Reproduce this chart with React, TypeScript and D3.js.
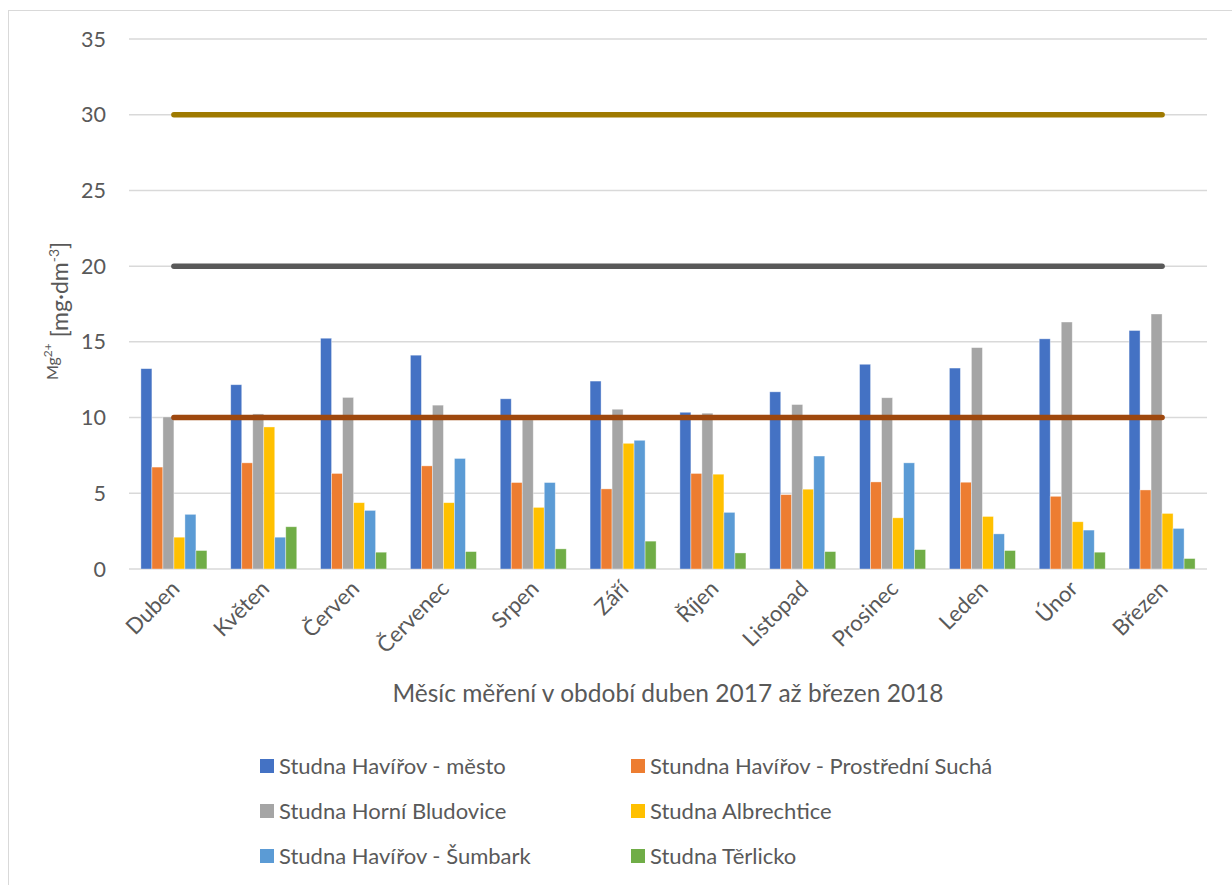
import React from "react";
import * as d3 from "d3";

const months = ["Duben", "Květen", "Červen", "Červenec", "Srpen", "Září", "Říjen", "Listopad", "Prosinec", "Leden", "Únor", "Březen"];
const seriesNames = [
  "Studna Havířov - město",
  "Stundna Havířov - Prostřední Suchá",
  "Studna Horní Bludovice",
  "Studna Albrechtice",
  "Studna Havířov - Šumbark",
  "Studna Těrlicko",
];
const havirovMesto = [13.23, 12.17, 15.24, 14.12, 11.24, 12.41, 10.35, 11.7, 13.52, 13.27, 15.2, 15.75];
const prostredniSucha = [6.73, 7.01, 6.31, 6.81, 5.71, 5.29, 6.31, 4.91, 5.75, 5.73, 4.8, 5.22];
const horniBludovice = [10.04, 10.24, 11.33, 10.82, 9.85, 10.55, 10.29, 10.86, 11.31, 14.62, 16.31, 16.84];
const albrechtice = [2.1, 9.38, 4.38, 4.38, 4.07, 8.3, 6.26, 5.27, 3.38, 3.47, 3.12, 3.67];
const sumbark = [3.61, 2.1, 3.87, 7.3, 5.71, 8.5, 3.74, 7.46, 7.01, 2.32, 2.57, 2.68];
const terlicko = [1.22, 2.79, 1.11, 1.15, 1.33, 1.84, 1.06, 1.15, 1.28, 1.22, 1.11, 0.69];
const seriesValues = [havirovMesto, prostredniSucha, horniBludovice, albrechtice, sumbark, terlicko];
const seriesColors = ["#4472C4", "#ED7D31", "#A5A5A5", "#FFC000", "#5B9BD5", "#70AD47"];
const limitValues = [30, 20, 10];
const limitColors = ["#9F7A00", "#595959", "#9E480E"];
const yTicks = [0, 5, 10, 15, 20, 25, 30, 35];
const xTitle = "Měsíc měření v období duben 2017 až březen 2018";

const FONT = "Lato, 'Open Sans', sans-serif";

export default function App() {
  const left = 129, right = 1207, top = 39, bottom = 569;
  const x0 = d3.scaleBand<string>().domain(months).range([left, right]).paddingInner(0).paddingOuter(0);
  const groupW = x0.bandwidth() * 0.735;
  const x1 = d3.scaleBand<number>().domain(d3.range(seriesNames.length)).range([0, groupW]);
  const y = d3.scaleLinear().domain([0, 35]).range([bottom, top]);
  const cx = (m: string) => (x0(m) as number) + x0.bandwidth() / 2;

  const legendRows = [766, 811, 856];
  const legendCols = [260, 631];

  return (
    <svg width={1232} height={885} style={{ position: "absolute", left: 0, top: 0, background: "#fff" }} fontFamily={FONT}>
      <rect x={8.5} y={10.5} width={1240} height={900} fill="#fff" stroke="#d9d9d9" strokeWidth={1} />
      {yTicks.map((t) => (
        <g key={t}>
          <line x1={left} x2={right} y1={y(t)} y2={y(t)} stroke="#d9d9d9" strokeWidth={1.5} />
          <text x={106} y={y(t)} dy="0.35em" textAnchor="end" fontSize={21.5} fill="#595959">{t}</text>
        </g>
      ))}
      {months.map((m, i) => (
        <g key={m} transform={`translate(${cx(m) - groupW / 2},0)`}>
          {seriesValues.map((vals, s) => (
            <rect key={s} x={x1(s) as number} y={y(vals[i])} width={x1.bandwidth()} height={y(0) - y(vals[i])}
              fill={seriesColors[s]} stroke="#fff" strokeOpacity={0.5} strokeWidth={0.75} />
          ))}
        </g>
      ))}
      {limitValues.map((v, k) => (
        <line key={v} x1={cx(months[0])} x2={cx(months[months.length - 1])} y1={y(v)} y2={y(v)}
          stroke={limitColors[k]} strokeWidth={5.5} strokeLinecap="round" />
      ))}
      {months.map((m) => (
        <text key={m} transform={`translate(${cx(m) + 7},${590}) rotate(-45)`} textAnchor="end" fontSize={22} fill="#595959">{m}</text>
      ))}
      <text x={(left + right) / 2} y={702} textAnchor="middle" fontSize={24.5} fill="#595959">{xTitle}</text>
      <text transform={`translate(68,311) rotate(-90)`} textAnchor="middle" fill="#595959">
        <tspan fontSize={16} dy={-10}>Mg</tspan>
        <tspan fontSize={12} dy={-6}>2+</tspan>
        <tspan fontSize={23} dy={16}> [mg·dm</tspan>
        <tspan fontSize={14} dy={-9}>-3</tspan>
        <tspan fontSize={23} dy={9}>]</tspan>
      </text>
      {seriesNames.map((name, s) => {
        const lx = legendCols[s % 2];
        const ly = legendRows[Math.floor(s / 2)];
        return (
          <g key={name}>
            <rect x={lx} y={ly - 7} width={14} height={14} fill={seriesColors[s]} />
            <text x={lx + 19} y={ly} dy="0.35em" fontSize={22} fill="#595959">{name}</text>
          </g>
        );
      })}
    </svg>
  );
}
